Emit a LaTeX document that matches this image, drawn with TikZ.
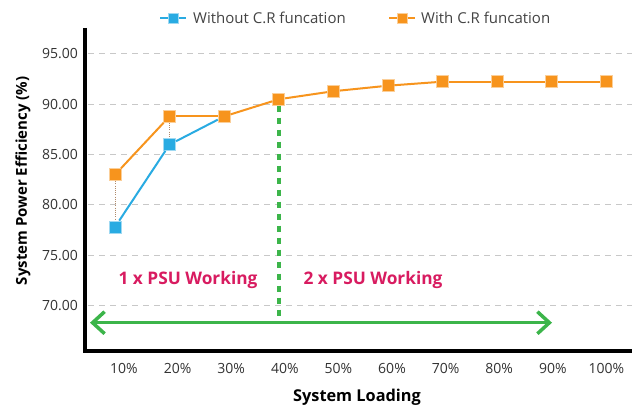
\documentclass[tikz,border=0pt]{standalone}
\usepackage{fontspec}
\setmainfont{Open Sans}
\usetikzlibrary{arrows.meta}
\definecolor{cblue}{HTML}{29ABE2}
\definecolor{corange}{HTML}{F7941D}
\definecolor{cgreen}{HTML}{3CB54A}
\definecolor{cpink}{HTML}{D81B60}
\definecolor{cgrid}{HTML}{C8C8C8}
\definecolor{ctext}{HTML}{333333}
\definecolor{clegend}{HTML}{444444}
\definecolor{cdot}{HTML}{B08A6A}
\begin{document}
\begin{tikzpicture}[x=1pt,y=-1pt,
  declare function={px(\i)=115+54.6*(\i-1); py(\v)=104.3+(90-\v)*10.06;},
  gridline/.style={cgrid, dash pattern=on 6pt off 5pt, line width=1pt},
  axisline/.style={black, line width=3.5pt},
  osq/.style={rectangle, fill=corange, draw=corange!45, line width=0.8pt, minimum size=12pt, inner sep=0pt},
  bsq/.style={rectangle, fill=cblue, draw=cblue!45, line width=0.8pt, minimum size=12pt, inner sep=0pt},
  oline/.style={corange, line width=2pt},
  bline/.style={cblue, line width=2pt},
  gap/.style={cdot, line width=1pt, dash pattern=on 1pt off 1.2pt},
  ytick/.style={anchor=east, inner sep=0pt, text=ctext, font=\fontsize{14}{14}\selectfont},
  xtick/.style={text=ctext, font=\fontsize{14}{14}\selectfont},
  axtitle/.style={text=black, font=\fontsize{15}{15}\selectfont\bfseries},
  zone/.style={text=cpink, font=\fontsize{17.3}{17.3}\selectfont\bfseries},
  legtext/.style={anchor=west, inner sep=0pt, text=clegend, font=\fontsize{15}{15}\selectfont},
  span/.style={cgreen, line width=3.5pt, {Straight Barb[length=12pt,width=22pt]}-{Straight Barb[length=12pt,width=22pt]}},
  split/.style={cgreen, line width=4pt, dash pattern=on 6pt off 6pt}]
\useasboundingbox (0,0) rectangle (632,409);
\fill[white] (0,0) rectangle (632,409);

% horizontal grid
\foreach \v in {95,90,85,80,75,70}
  \draw[gridline] (88,{py(\v)}) -- (632,{py(\v)});

% y tick labels
\foreach \v in {95,90,85,80,75,70}
  \node[ytick] (yt\v) at (78,{py(\v)}) {\v.00};

% x tick labels
\foreach \i in {1,...,10}{
  \pgfmathtruncatemacro{\pc}{10*\i}
  \node[xtick] (xt\i) at ({124+53.6*(\i-1)},368) {\pc\%};
}

% axis titles
\node[axtitle, rotate=90] (ytitle) at (23,181) {System Power Efficiency (\%)};
\node[axtitle, font=\fontsize{16.3}{16.3}\selectfont\bfseries] (xtitle) at (357,397) {System Loading};

% loading zones
\node[zone] (z1) at (188,280) {1 x PSU Working};
\node[zone] (z2) at (373,280) {2 x PSU Working};

% range arrow
\coordinate (aL) at (90,322.7);
\coordinate (aR) at (552,322.7);
\draw[span] (aL) -- (aR);

% data points
\foreach \i/\v in {1/83.0,2/88.8,3/88.8,4/90.5,5/91.3,6/91.85,7/92.25,8/92.25,9/92.25,10/92.25}
  \node[osq] (o\i) at ({px(\i)},{py(\v)}) {};
\foreach \i/\v in {1/77.8,2/86.0}
  \node[bsq] (b\i) at ({px(\i)},{py(\v)}) {};

% split between the two regimes
\draw[split] (o4.south) -- (o4.south |- aL);

% gaps between the series
\draw[gap] (o1.south) -- (b1.north);
\draw[gap] (o2.south) -- (b2.north);

% series lines
\draw[bline] (b1) -- (b2);
\draw[bline] (b2) -- (o3);
\foreach \i [evaluate=\i as \j using int(\i+1)] in {1,...,9}
  \draw[oline] (o\i) -- (o\j);

% axes
\coordinate (ax0) at (85,28);
\coordinate (ax1) at (85,351);
\coordinate (ax2) at (632,351);
\draw[axisline] (ax0) -- (ax1) -- (ax2);

% legend
\coordinate (lb0) at (160,18);
\coordinate (lb1) at (186,18);
\draw[bline] (lb0) -- (lb1);
\node[bsq, minimum size=10pt] (lbm) at (173,18) {};
\node[legtext] (lbt) at (193,18) {Without C.R funcation};
\coordinate (lo0) at (389,18);
\coordinate (lo1) at (415,18);
\draw[oline] (lo0) -- (lo1);
\node[osq, minimum size=10pt] (lom) at (402,18) {};
\node[legtext] (lot) at (421,18) {With C.R funcation};
\end{tikzpicture}
\end{document}
